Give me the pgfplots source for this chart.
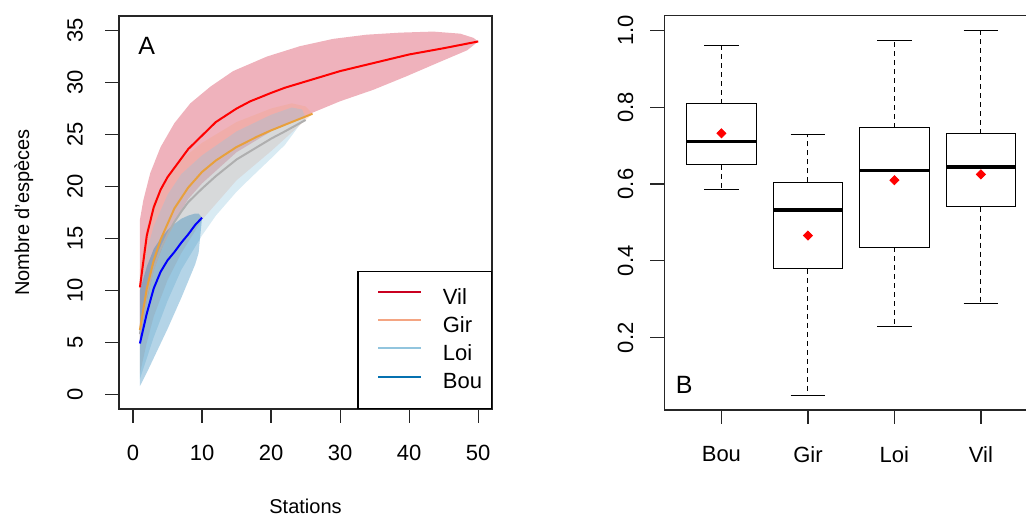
\documentclass[border=0pt]{standalone}
\usepackage{fontspec}
\setmainfont{Liberation Sans}
\usepackage{pgfplots}
\pgfplotsset{compat=1.18}
\usepgfplotslibrary{statistics}

\definecolor{vilc}{HTML}{CA0020}
\definecolor{girc}{HTML}{F4A582}
\definecolor{loic}{HTML}{92C5DE}
\definecolor{bouc}{HTML}{0571B0}
\definecolor{girline}{RGB}{232,160,60}
\definecolor{loiline}{RGB}{175,175,175}

\pgfplotsset{
  rstyle/.style={
    scale only axis,
    anchor=south west,
    tick align=outside,
    major tick length=7pt,
    xtick pos=bottom, ytick pos=left,
    axis line style={line width=0.6pt, black!85},
    tick style={line width=0.6pt, black!85},
    tick label style={font=\fontsize{11}{13}\selectfont},
    /pgf/number format/assume math mode=true,
    yticklabel style={rotate=90, anchor=south},
    xticklabel shift=7.5pt,
    label style={font=\fontsize{11}{13}\selectfont},
  },
}

\begin{document}
\begin{tikzpicture}
\useasboundingbox (0pt,0pt) rectangle (513pt,258.5pt);

% ---- panel A: rarefaction curves
\begin{axis}[rstyle, at={(59.5pt,54pt)}, width=186.5pt, height=196.5pt,
  xmin=-2.03, xmax=52, ymin=-1.4, ymax=36.4,
  xtick={0,10,...,50}, ytick={0,5,...,35},
  yticklabel shift=7.5pt,
  xlabel={Stations}, ylabel={Nombre d'espèces},
  every axis x label/.style={at={(axis description cs:0.5,-0.249)}, anchor=center},
  every axis y label/.style={at={(axis description cs:-0.255,0.5)}, anchor=center, rotate=90},
  legend style={at={(1,0)}, anchor=south east, draw=black, line width=0.6pt,
    font=\fontsize{11}{13}\selectfont, inner xsep=2.7pt, inner ysep=6.4pt, row sep=0.55pt,
    cells={anchor=west, inner xsep=0.5pt, inner ysep=1pt, text height=8pt, text depth=2.5pt}},
  legend image code/.code={\path (-7.2pt,0pt) (29.9pt,0pt);
    \draw[#1, line width=1pt] (0pt,2.75pt) -- (21.3pt,2.75pt);},
]
% bands: upper edge left to right, lower edge back
\addplot[draw=none, fill=vilc, fill opacity=0.3, forget plot] coordinates {
  (1,16.8)(1.5,18.7)(2.5,21.3)(4,23.8)(6,26.1)(8.3,28.0)(11.2,29.6)(14.5,31.1)
  (19.4,32.5)(24.2,33.5)(29,34.2)(33.8,34.6)(38.7,34.8)(43.5,34.9)(47.4,34.7)
  (49.3,34.3)(50,33.95)
  (48.4,33.1)(44.5,32.0)(39.6,30.6)(34.8,29.3)(30,28.2)(26,27.1)(20,25.3)
  (15,23.3)(10,20.3)(8,18.8)(5,15.5)(3,12)(2,9)(1,5)} -- cycle;
\addplot[draw=none, fill=girc, fill opacity=0.3, forget plot] coordinates {
  (1,12)(2,16)(3,18.5)(5,21)(7,22.6)(10,24.2)(15,26.2)(20,27.5)(23,28.0)
  (25,27.7)(26,27.0)
  (23,25.2)(20,23.4)(15,20.6)(10,16.8)(7,13.6)(5,11)(3,7.5)(2,5)(1,2)} -- cycle;
\addplot[draw=none, fill=loic, fill opacity=0.35, forget plot] coordinates {
  (1,10)(2,13.8)(3,16.2)(5,19.2)(7,21.2)(10,23.0)(15,25.3)(20,26.9)(23,27.6)
  (24.5,27.4)(25,26.6)
  (24,25.8)(22,24.0)(20,22.7)(17,20.8)(15,19.5)(12,17.2)(10,15.3)(7,12.0)
  (5,9.0)(3,5.5)(2,3.5)(1,1.5)} -- cycle;
\addplot[draw=none, fill=bouc, fill opacity=0.3, forget plot] coordinates {
  (1,10.0)(2,12.3)(3,14.0)(4,15.0)(5,15.8)(6,16.4)(7,16.9)(8,17.2)(9,17.4)
  (9.5,17.4)(10,17.0)
  (9.5,13.6)(9,12.5)(8,10.9)(7,9.3)(6,7.8)(5,6.3)(4,4.9)(3,3.5)(2,2.1)(1,0.8)} -- cycle;
% mean curves
\addplot[loiline, line width=1pt, forget plot] coordinates {
  (1,5.8)(2,9.6)(3,12.2)(4,14.0)(5,15.4)(6,16.6)(7,17.6)(8,18.5)(10,19.8)
  (12,21.0)(15,22.6)(18,23.8)(20,24.6)(22,25.3)(25,26.4)};
\addplot[girline, line width=1pt, forget plot] coordinates {
  (1,6.2)(2,10.2)(3,12.9)(4,14.9)(5,16.4)(6,17.9)(7,18.9)(8,19.9)(10,21.4)
  (12,22.5)(15,23.8)(18,24.8)(20,25.4)(23,26.2)(26,27.0)};
\addplot[red, line width=1pt, forget plot] coordinates {
  (1,10.3)(2,15.3)(3,18.0)(4,19.7)(5,20.9)(6,21.8)(7,22.7)(8,23.6)(10,24.9)
  (12,26.2)(15,27.5)(17,28.2)(20,29.0)(22,29.5)(25,30.1)(27,30.5)(30,31.1)
  (35,31.9)(40,32.7)(45,33.3)(50,33.95)};
\addplot[blue, line width=1pt, forget plot] coordinates {
  (1,4.9)(2,7.8)(3,10.2)(4,11.8)(5,12.9)(6,13.7)(7,14.6)(8,15.4)(9,16.3)(10,17.0)};
\addlegendimage{vilc}\addlegendentry{Vil}
\addlegendimage{girc}\addlegendentry{Gir}
\addlegendimage{loic}\addlegendentry{Loi}
\addlegendimage{bouc}\addlegendentry{Bou}
\node[font=\fontsize{12.5}{15}\selectfont] at (axis cs:2.0,33.5) {A};
\end{axis}

% ---- panel B: boxplots
\begin{axis}[rstyle, at={(332.15pt,53.5pt)}, width=186.85pt, height=197.15pt,
  xmin=0.34, xmax=4.66, ymin=0.012, ymax=1.038,
  xtick={1,2,3,4}, xticklabels={Bou,Gir,Loi,Vil},
  ytick={0.2,0.4,0.6,0.8,1.0},
  yticklabel shift=5pt,
  yticklabel style={/pgf/number format/.cd, fixed, fixed zerofill, precision=1},
  boxplot/draw direction=y,
  boxplot/every box/.style={line width=0.5pt},
  boxplot/every median/.style={line width=1.7pt},
  boxplot/draw/lower whisker/.code={%
    \draw[black, line width=0.5pt, dash pattern=on 2.5pt off 2pt]
      (boxplot cs:\pgfplotsboxplotvalue{lower quartile}) --
      (boxplot cs:\pgfplotsboxplotvalue{lower whisker});
    \draw[black, line width=0.5pt]
      (boxplot whisker cs:\pgfplotsboxplotvalue{lower whisker},0) --
      (boxplot whisker cs:\pgfplotsboxplotvalue{lower whisker},1);
  },
  boxplot/draw/upper whisker/.code={%
    \draw[black, line width=0.5pt, dash pattern=on 2.5pt off 2pt]
      (boxplot cs:\pgfplotsboxplotvalue{upper quartile}) --
      (boxplot cs:\pgfplotsboxplotvalue{upper whisker});
    \draw[black, line width=0.5pt]
      (boxplot whisker cs:\pgfplotsboxplotvalue{upper whisker},0) --
      (boxplot whisker cs:\pgfplotsboxplotvalue{upper whisker},1);
  },
]
\addplot[black, boxplot prepared={draw position=1, lower whisker=0.587,
  lower quartile=0.650, median=0.710, upper quartile=0.809, upper whisker=0.961,
  box extend=0.8, whisker extend=0.4}] coordinates {};
\addplot[black, boxplot prepared={draw position=2, lower whisker=0.049,
  lower quartile=0.379, median=0.532, upper quartile=0.604, upper whisker=0.728,
  box extend=0.8, whisker extend=0.4}] coordinates {};
\addplot[black, boxplot prepared={draw position=3, lower whisker=0.230,
  lower quartile=0.436, median=0.635, upper quartile=0.747, upper whisker=0.973,
  box extend=0.8, whisker extend=0.4}] coordinates {};
\addplot[black, boxplot prepared={draw position=4, lower whisker=0.290,
  lower quartile=0.541, median=0.644, upper quartile=0.731, upper whisker=1.000,
  box extend=0.8, whisker extend=0.4}] coordinates {};
% means
\addplot[only marks, mark=square*, mark size=1.6pt, red,
  mark options={rotate=45, fill=red, draw=red}] coordinates {
  (1,0.732)(2,0.466)(3,0.610)(4,0.625)};
\node[font=\fontsize{12.5}{15}\selectfont] at (axis cs:0.571,0.078) {B};
\end{axis}
\end{tikzpicture}
\end{document}
